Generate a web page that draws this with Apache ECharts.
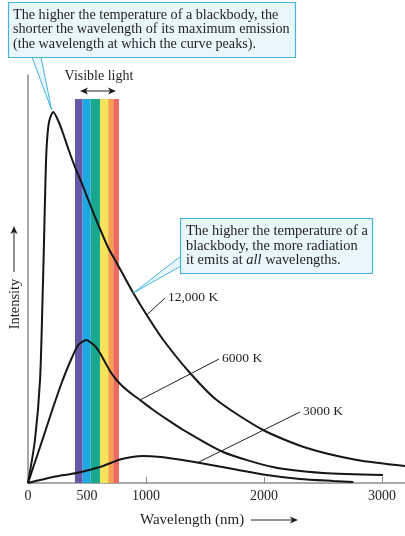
<!DOCTYPE html>
<html lang="en">
<head>
    <meta charset="UTF-8">
    <script src="https://cdn.jsdelivr.net/npm/echarts@6/dist/echarts.min.js"></script>
    <style>
        html, body { margin: 0; padding: 0; background: #fff; }
        #main { width: 405px; height: 536px; }
    </style>
    <title>Blackbody curves</title>
</head>
<body>
    <div id="main"></div>
    <script>
        // wavelength (nm), intensity (arbitrary units)
        var curve12000 = [[0, 0], [59, 43], [102, 103], [123, 183], [136, 243], [144, 283], [153, 323], [165, 348],
            [182, 363], [214, 371], [257, 362], [299, 349], [342, 334], [398, 316], [455, 300], [511, 283],
            [568, 266], [625, 250], [681, 235], [752, 220], [822, 205], [892, 190], [1006, 168], [1147, 143],
            [1373, 110], [1599, 83], [1992, 53], [2364, 35], [2788, 23], [3195, 17]];
        var curve6000 = [[0, 0], [45, 16], [102, 36], [158, 56], [214, 76], [285, 100], [356, 121], [426, 138],
            [497, 143], [525, 141], [568, 137], [610, 130], [652, 121], [695, 112], [750, 103], [808, 96],
            [880, 89], [949, 83], [1050, 74], [1147, 66], [1316, 53], [1653, 31], [2076, 16], [2500, 10], [3008, 8]];
        var curve3000 = [[0, 0], [214, 6], [412, 10], [610, 16], [780, 23.5], [880, 26], [977, 27],
            [1100, 26.3], [1250, 24], [1458, 20], [1740, 14], [2023, 8], [2305, 4], [2588, 2], [2757, 1]];

        // visible band: edges in nm and colours
        var bandEdges = [398, 463, 531, 610, 680, 723, 771];
        var bandColors = ['#6658a6', '#1ea7e1', '#17a88f', '#f6e35c', '#f5a04c', '#ec6b5f'];
        var bandTop = 384;

        var tickValues = [500, 1000, 2000, 3000];
        var labelValues = [0, 500, 1000, 2000, 3000];

        // leader lines: [point on curve, label anchor], and label text
        var leaders = [
            { text: '12,000 K', from: [1006, 168], to: [1161, 185] },
            { text: '6000 K', from: [949, 83], to: [1619, 124] },
            { text: '3000 K', from: [1432, 20], to: [2305, 71] }
        ];
        var peakTip = [200, 373];
        var allTip = [892, 190];

        var serif = "'Liberation Serif', 'DejaVu Serif', serif";
        var ink = '#231f20';
        var cyan = '#45b5e0';
        var boxFill = '#e9f6fb';

        var chart = echarts.init(document.getElementById('main'), null, { renderer: 'canvas' });

        var bandData = [];
        for (var i = 0; i < bandColors.length; i++) {
            bandData.push([bandEdges[i], bandEdges[i + 1], bandTop, i]);
        }

        function curveSeries(name, data) {
            return {
                name: name,
                type: 'line',
                data: data,
                smooth: 0.25,
                showSymbol: false,
                z: 3,
                lineStyle: { color: '#161616', width: 2 }
            };
        }

        var option = {
            animation: false,
            grid: { left: 28, right: 0, top: 75, bottom: 53 },
            xAxis: {
                type: 'value',
                min: 0,
                max: 3195,
                axisLine: { lineStyle: { color: '#8c8c8c', width: 1.5 } },
                axisTick: { show: true, inside: true, length: 6, customValues: tickValues, lineStyle: { color: '#8c8c8c' } },
                axisLabel: {
                    customValues: labelValues,
                    formatter: function (v) { return String(v); },
                    margin: 6,
                    color: ink,
                    fontFamily: serif,
                    fontSize: 14
                },
                splitLine: { show: false }
            },
            yAxis: {
                type: 'value',
                min: 0,
                max: 408,
                axisLine: { show: true, lineStyle: { color: '#8c8c8c', width: 1.5 } },
                axisTick: { show: false },
                axisLabel: { show: false },
                splitLine: { show: false }
            },
            series: [
                {
                    type: 'custom',
                    z: 1,
                    data: bandData,
                    encode: { x: [0, 1], y: 2 },
                    renderItem: function (params, api) {
                        var p0 = api.coord([api.value(0), api.value(2)]);
                        var p1 = api.coord([api.value(1), 0]);
                        return {
                            type: 'rect',
                            shape: { x: p0[0], y: p0[1], width: p1[0] - p0[0], height: p1[1] - p0[1] },
                            style: { fill: bandColors[api.value(3)] }
                        };
                    }
                },
                curveSeries('12000 K', curve12000),
                curveSeries('6000 K', curve6000),
                curveSeries('3000 K', curve3000)
            ]
        };
        chart.setOption(option);

        function px(p) {
            return chart.convertToPixel({ gridIndex: 0 }, p);
        }
        function head(x, y, dir) {
            // small filled arrow head, tip at (x, y)
            var pts;
            if (dir === 'up') pts = [[x, y], [x - 3.5, y + 8], [x, y + 6], [x + 3.5, y + 8]];
            else if (dir === 'left') pts = [[x, y], [x + 8, y - 3.5], [x + 6, y], [x + 8, y + 3.5]];
            else pts = [[x, y], [x - 8, y - 3.5], [x - 6, y], [x - 8, y + 3.5]];
            return { type: 'polygon', shape: { points: pts }, style: { fill: ink } };
        }

        var g = [];
        // leader lines and temperature labels
        leaders.forEach(function (l) {
            var a = px(l.from), b = px(l.to);
            g.push({ type: 'line', shape: { x1: a[0], y1: a[1], x2: b[0], y2: b[1] }, style: { stroke: ink, lineWidth: 1 }, z: 10 });
            g.push({ type: 'text', x: b[0] + 3, y: b[1] - 1, style: { text: l.text, font: '13.5px ' + serif, fill: ink, align: 'left', verticalAlign: 'middle' }, z: 10 });
        });

        // top callout
        var t1 = px(peakTip);
        g.push({ type: 'polygon', shape: { points: [[32, 57], t1, [41, 57]] }, style: { fill: boxFill }, z: 10 });
        g.push({ type: 'polyline', shape: { points: [[32, 57], t1, [41, 57]] }, style: { stroke: cyan, lineWidth: 1, fill: null }, z: 11 });
        g.push({ type: 'rect', shape: { x: 8.5, y: 2.5, width: 287, height: 55 }, style: { fill: boxFill, stroke: cyan, lineWidth: 1.2 }, z: 12 });
        g.push({
            type: 'text', x: 13, y: 8, z: 13,
            style: {
                text: 'The higher the temperature of a blackbody, the\nshorter the wavelength of its maximum emission\n(the wavelength at which the curve peaks).',
                font: '14.2px ' + serif, fill: ink, lineHeight: 14.5
            }
        });

        // right callout
        var t2 = px(allTip);
        g.push({ type: 'polygon', shape: { points: [[181, 256], t2, [181, 266]] }, style: { fill: boxFill }, z: 10 });
        g.push({ type: 'polyline', shape: { points: [[181, 256], t2, [181, 266]] }, style: { stroke: cyan, lineWidth: 1, fill: null }, z: 11 });
        g.push({ type: 'rect', shape: { x: 180.5, y: 218.5, width: 192, height: 55 }, style: { fill: boxFill, stroke: cyan, lineWidth: 1.2 }, z: 12 });
        g.push({
            type: 'text', x: 186, y: 224, z: 13,
            style: {
                text: 'The higher the temperature of a\nblackbody, the more radiation\nit emits at {i|all} wavelengths.',
                font: '14.4px ' + serif, fill: ink, lineHeight: 14.5,
                rich: { i: { fontStyle: 'italic', fontFamily: serif, fontSize: 14.4, lineHeight: 14.5, fill: ink } }
            }
        });

        // visible light label and double arrow
        g.push({ type: 'text', x: 99, y: 76, style: { text: 'Visible light', font: '14px ' + serif, fill: ink, align: 'center', verticalAlign: 'middle' } });
        g.push({ type: 'line', shape: { x1: 84, y1: 91, x2: 112, y2: 91 }, style: { stroke: ink, lineWidth: 1 } });
        g.push(head(80, 91, 'left'));
        g.push(head(116, 91, 'right'));

        // intensity label
        g.push({ type: 'text', x: 15, y: 304, rotation: Math.PI / 2, style: { text: 'Intensity', font: '14.5px ' + serif, fill: ink, align: 'center', verticalAlign: 'middle' } });
        g.push({ type: 'line', shape: { x1: 14, y1: 272, x2: 14, y2: 232 }, style: { stroke: ink, lineWidth: 1 } });
        g.push(head(14, 226, 'up'));

        // wavelength label
        g.push({ type: 'text', x: 140, y: 520, style: { text: 'Wavelength (nm)', font: '15px ' + serif, fill: ink, align: 'left', verticalAlign: 'middle' } });
        g.push({ type: 'line', shape: { x1: 251, y1: 520, x2: 292, y2: 520 }, style: { stroke: ink, lineWidth: 1 } });
        g.push(head(298, 520, 'right'));

        chart.setOption({ graphic: g });
    </script>
</body>
</html>
